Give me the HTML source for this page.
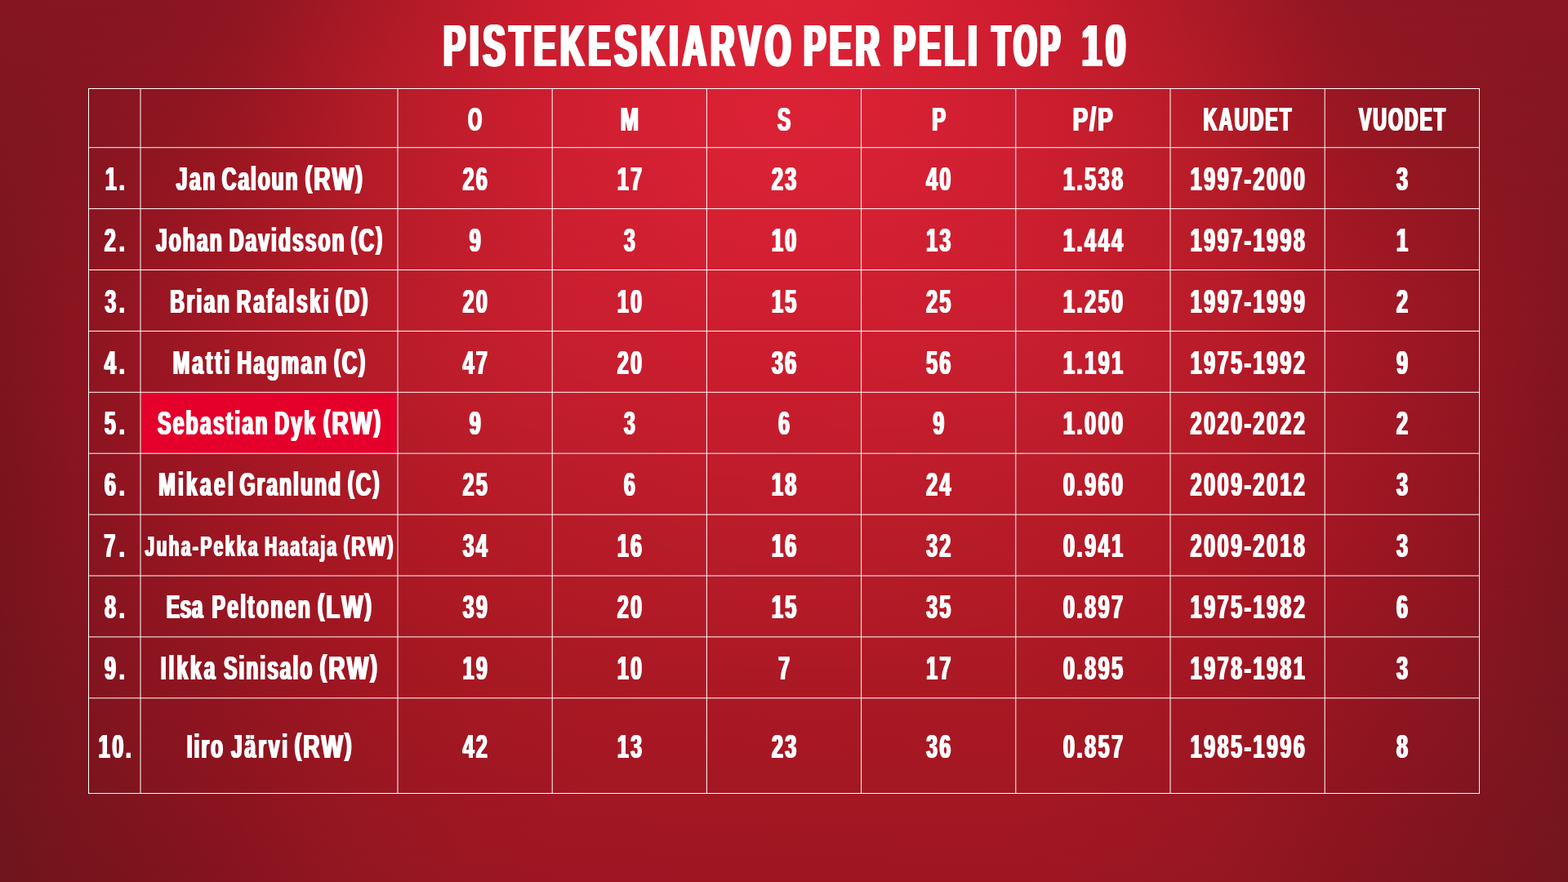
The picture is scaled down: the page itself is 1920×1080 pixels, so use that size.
<!DOCTYPE html>
<html lang="fi">
<head>
<meta charset="utf-8">
<title>Pistekeskiarvo per peli TOP 10</title>
<style>
html,body{margin:0;padding:0;}
body{width:1920px;height:1080px;overflow:hidden;position:relative;background:#9e1622;font-family:"Liberation Sans",Arial,Helvetica,sans-serif;font-weight:700;color:#fff;}
.bg{position:absolute;left:0;top:0;width:1920px;height:1080px;}
.grid{position:absolute;left:0;top:0;width:1920px;height:1080px;}
h1{margin:0;padding:0;font-size:0;line-height:0;height:0;font-weight:700;}
table{position:absolute;left:0;top:0;border-collapse:collapse;border-spacing:0;border:0;width:0;height:0;}
th,td{padding:0;border:0;font-size:0;line-height:0;font-weight:700;}
.t{position:absolute;left:0;top:0;margin:0;padding:0;white-space:nowrap;line-height:1;transform-origin:0 0;font-weight:700;font-kerning:none;}
.p{font-size:0.926em;position:relative;top:-0.109em;}
</style>
</head>
<body>
<div class="bg" style="background:linear-gradient(90deg,#6f151d 0%,#73151d 2.5%,#77141d 5%,#7a141d 7.5%,#7e141e 10%,#82141e 12.5%,#86141f 15%,#8a1520 17.5%,#8f1621 20%,#921722 22.5%,#951722 25%,#981722 27.5%,#9a1723 30%,#9c1623 32.5%,#9d1623 35%,#9e1623 37.5%,#9e1623 40%,#9e1623 42.5%,#9e1622 45%,#9e1622 47.5%,#9e1622 50%,#9e1622 52.5%,#9e1622 55%,#9f1623 57.5%,#9f1623 60%,#9f1623 62.5%,#9f1623 65%,#9e1723 67.5%,#9c1723 70%,#9a1723 72.5%,#981723 75%,#961722 77.5%,#921721 80%,#8e1620 82.5%,#8a151f 85%,#86151f 87.5%,#82151f 90%,#7f151e 92.5%,#7b151e 95%,#77151e 97.5%,#74161e 100%);"></div>
<div class="bg" style="background:linear-gradient(90deg,#70151d 0%,#75151e 2.5%,#79151e 5%,#7d141e 7.5%,#81141e 10%,#85141f 12.5%,#89141f 15%,#8e1520 17.5%,#921621 20%,#951722 22.5%,#981722 25%,#9a1722 27.5%,#9d1723 30%,#9e1723 32.5%,#a01723 35%,#a01723 37.5%,#a01723 40%,#a11723 42.5%,#a11723 45%,#a11723 47.5%,#a11722 50%,#a11723 52.5%,#a11723 55%,#a11723 57.5%,#a11723 60%,#a11723 62.5%,#a11723 65%,#a01723 67.5%,#9f1723 70%,#9d1723 72.5%,#9b1723 75%,#991722 77.5%,#951721 80%,#911621 82.5%,#8d1520 85%,#89151f 87.5%,#85151f 90%,#81151f 92.5%,#7d151f 95%,#79161f 97.5%,#75161f 100%);-webkit-mask-image:linear-gradient(180deg,#000 0,#000 1020px,transparent 1080px);mask-image:linear-gradient(180deg,#000 0,#000 1020px,transparent 1080px);"></div>
<div class="bg" style="background:linear-gradient(90deg,#72151e 0%,#76151e 2.5%,#7b151e 5%,#7f151e 7.5%,#84151f 10%,#88151f 12.5%,#8c151f 15%,#911520 17.5%,#951621 20%,#981722 22.5%,#9b1722 25%,#9d1722 27.5%,#9f1723 30%,#a11723 32.5%,#a21723 35%,#a31823 37.5%,#a31823 40%,#a41823 42.5%,#a41823 45%,#a41823 47.5%,#a41823 50%,#a41823 52.5%,#a41823 55%,#a41823 57.5%,#a41824 60%,#a41824 62.5%,#a41823 65%,#a31823 67.5%,#a11823 70%,#a01723 72.5%,#9e1723 75%,#9c1722 77.5%,#981722 80%,#941621 82.5%,#901520 85%,#8c1520 87.5%,#881520 90%,#84151f 92.5%,#7f151f 95%,#7b161f 97.5%,#76161f 100%);-webkit-mask-image:linear-gradient(180deg,#000 0,#000 960px,transparent 1020px);mask-image:linear-gradient(180deg,#000 0,#000 960px,transparent 1020px);"></div>
<div class="bg" style="background:linear-gradient(90deg,#73151e 0%,#78151e 2.5%,#7d151f 5%,#82151f 7.5%,#87151f 10%,#8b1520 12.5%,#901520 15%,#941520 17.5%,#981621 20%,#9c1722 22.5%,#9e1722 25%,#a01722 27.5%,#a21823 30%,#a41823 32.5%,#a51823 35%,#a61824 37.5%,#a71824 40%,#a71824 42.5%,#a71824 45%,#a71824 47.5%,#a81824 50%,#a81824 52.5%,#a71824 55%,#a71824 57.5%,#a71824 60%,#a71824 62.5%,#a71824 65%,#a61823 67.5%,#a41823 70%,#a31823 72.5%,#a11723 75%,#9f1722 77.5%,#9c1722 80%,#981621 82.5%,#931621 85%,#8f1520 87.5%,#8b1520 90%,#861620 92.5%,#821620 95%,#7d161f 97.5%,#77161f 100%);-webkit-mask-image:linear-gradient(180deg,#000 0,#000 900px,transparent 960px);mask-image:linear-gradient(180deg,#000 0,#000 900px,transparent 960px);"></div>
<div class="bg" style="background:linear-gradient(90deg,#74151e 0%,#7a151e 2.5%,#7f151f 5%,#85151f 7.5%,#8a1520 10%,#8e1520 12.5%,#931520 15%,#971621 17.5%,#9b1621 20%,#9f1722 22.5%,#a21722 25%,#a41822 27.5%,#a61823 30%,#a71923 32.5%,#a81924 35%,#a91924 37.5%,#aa1924 40%,#ab1925 42.5%,#ab1925 45%,#ab1925 47.5%,#ab1925 50%,#ab1925 52.5%,#ab1925 55%,#ab1925 57.5%,#ab1924 60%,#aa1924 62.5%,#aa1924 65%,#a91924 67.5%,#a81823 70%,#a61823 72.5%,#a51723 75%,#a21722 77.5%,#9f1722 80%,#9b1622 82.5%,#971621 85%,#921621 87.5%,#8e1621 90%,#891620 92.5%,#841620 95%,#7e1620 97.5%,#79161f 100%);-webkit-mask-image:linear-gradient(180deg,#000 0,#000 840px,transparent 900px);mask-image:linear-gradient(180deg,#000 0,#000 840px,transparent 900px);"></div>
<div class="bg" style="background:linear-gradient(90deg,#75151e 0%,#7c151e 2.5%,#82151f 5%,#881520 7.5%,#8d1520 10%,#921521 12.5%,#961621 15%,#9b1621 17.5%,#9f1622 20%,#a31722 22.5%,#a51722 25%,#a71823 27.5%,#a91923 30%,#ab1924 32.5%,#ac1a25 35%,#ad1a25 37.5%,#ae1a25 40%,#af1a26 42.5%,#af1a26 45%,#b01a26 47.5%,#b01a26 50%,#b01a26 52.5%,#b01a26 55%,#af1a26 57.5%,#af1a25 60%,#ae1a25 62.5%,#ae1a25 65%,#ad1924 67.5%,#ab1924 70%,#aa1824 72.5%,#a81823 75%,#a61723 77.5%,#a31722 80%,#9f1622 82.5%,#9a1622 85%,#961621 87.5%,#911621 90%,#8c1621 92.5%,#861620 95%,#80161f 97.5%,#7a161f 100%);-webkit-mask-image:linear-gradient(180deg,#000 0,#000 780px,transparent 840px);mask-image:linear-gradient(180deg,#000 0,#000 780px,transparent 840px);"></div>
<div class="bg" style="background:linear-gradient(90deg,#77141d 0%,#7e151e 2.5%,#84151f 5%,#8b1520 7.5%,#901521 10%,#951621 12.5%,#9a1622 15%,#9f1622 17.5%,#a31722 20%,#a71723 22.5%,#a91823 25%,#ac1924 27.5%,#ae1925 30%,#af1a25 32.5%,#b11a26 35%,#b21b26 37.5%,#b31b27 40%,#b31b27 42.5%,#b41b28 45%,#b51b28 47.5%,#b51b28 50%,#b51b28 52.5%,#b41b28 55%,#b41b27 57.5%,#b31b27 60%,#b31b27 62.5%,#b21b26 65%,#b11a26 67.5%,#b01a25 70%,#ae1924 72.5%,#ac1824 75%,#aa1824 77.5%,#a71723 80%,#a31723 82.5%,#9e1622 85%,#991622 87.5%,#941621 90%,#8f1621 92.5%,#891520 95%,#82151f 97.5%,#7b151f 100%);-webkit-mask-image:linear-gradient(180deg,#000 0,#000 720px,transparent 780px);mask-image:linear-gradient(180deg,#000 0,#000 720px,transparent 780px);"></div>
<div class="bg" style="background:linear-gradient(90deg,#78141d 0%,#80141e 2.5%,#87151f 5%,#8d1520 7.5%,#931521 10%,#991622 12.5%,#9e1622 15%,#a21723 17.5%,#a71723 20%,#aa1824 22.5%,#ad1924 25%,#b01925 27.5%,#b21a26 30%,#b31b27 32.5%,#b51b27 35%,#b61b28 37.5%,#b71b29 40%,#b81c29 42.5%,#b91c2a 45%,#ba1c2a 47.5%,#ba1c2a 50%,#ba1c2a 52.5%,#b91c2a 55%,#b91c29 57.5%,#b81c29 60%,#b71c28 62.5%,#b61b28 65%,#b51b27 67.5%,#b41a26 70%,#b21a26 72.5%,#b01925 75%,#ae1925 77.5%,#aa1824 80%,#a61724 82.5%,#a11723 85%,#9d1623 87.5%,#971622 90%,#911621 92.5%,#8b1520 95%,#84151f 97.5%,#7d151e 100%);-webkit-mask-image:linear-gradient(180deg,#000 0,#000 660px,transparent 720px);mask-image:linear-gradient(180deg,#000 0,#000 660px,transparent 720px);"></div>
<div class="bg" style="background:linear-gradient(90deg,#79141d 0%,#81141e 2.5%,#88151f 5%,#8f1520 7.5%,#951621 10%,#9b1622 12.5%,#a01723 15%,#a51724 17.5%,#a91824 20%,#ad1925 22.5%,#b11926 25%,#b31a26 27.5%,#b61b27 30%,#b81c28 32.5%,#b91c29 35%,#bb1c2a 37.5%,#bc1c2a 40%,#bd1c2b 42.5%,#be1c2b 45%,#be1c2b 47.5%,#bf1c2c 50%,#bf1c2b 52.5%,#be1c2b 55%,#bd1c2b 57.5%,#bd1c2a 60%,#bc1c2a 62.5%,#bb1c29 65%,#b91c29 67.5%,#b81b28 70%,#b61a27 72.5%,#b31a26 75%,#b11926 77.5%,#ad1925 80%,#a91824 82.5%,#a41724 85%,#9f1723 87.5%,#991622 90%,#931621 92.5%,#8d1520 95%,#86151f 97.5%,#7e151e 100%);-webkit-mask-image:linear-gradient(180deg,#000 0,#000 600px,transparent 660px);mask-image:linear-gradient(180deg,#000 0,#000 600px,transparent 660px);"></div>
<div class="bg" style="background:linear-gradient(90deg,#7b141d 0%,#82151e 2.5%,#8a1520 5%,#901521 7.5%,#971622 10%,#9d1623 12.5%,#a21724 15%,#a71825 17.5%,#ac1925 20%,#b11a26 22.5%,#b41a27 25%,#b71b28 27.5%,#ba1c29 30%,#bc1d2a 32.5%,#be1d2b 35%,#bf1d2c 37.5%,#c11d2c 40%,#c21d2c 42.5%,#c31d2d 45%,#c31d2d 47.5%,#c31d2d 50%,#c31d2d 52.5%,#c31d2d 55%,#c21d2c 57.5%,#c11d2c 60%,#c01d2c 62.5%,#bf1d2c 65%,#be1d2b 67.5%,#bc1c2a 70%,#ba1b29 72.5%,#b71b28 75%,#b41a27 77.5%,#b01926 80%,#ab1825 82.5%,#a61825 85%,#a11724 87.5%,#9b1723 90%,#951622 92.5%,#8e1621 95%,#87151f 97.5%,#7f151e 100%);-webkit-mask-image:linear-gradient(180deg,#000 0,#000 540px,transparent 600px);mask-image:linear-gradient(180deg,#000 0,#000 540px,transparent 600px);"></div>
<div class="bg" style="background:linear-gradient(90deg,#7c151d 0%,#84151f 2.5%,#8b1520 5%,#921621 7.5%,#981622 10%,#9e1724 12.5%,#a41825 15%,#a91826 17.5%,#af1a27 20%,#b31b28 22.5%,#b71b29 25%,#bb1c2a 27.5%,#be1d2c 30%,#c01e2d 32.5%,#c21e2e 35%,#c41e2e 37.5%,#c51e2e 40%,#c61e2e 42.5%,#c71d2e 45%,#c81d2e 47.5%,#c81d2e 50%,#c81d2e 52.5%,#c71e2e 55%,#c71e2e 57.5%,#c61e2e 60%,#c51e2e 62.5%,#c41e2e 65%,#c21e2d 67.5%,#c01d2c 70%,#bd1d2b 72.5%,#ba1c2a 75%,#b71b29 77.5%,#b21a28 80%,#ad1927 82.5%,#a81826 85%,#a21724 87.5%,#9c1723 90%,#961622 92.5%,#8f1621 95%,#881520 97.5%,#80151f 100%);-webkit-mask-image:linear-gradient(180deg,#000 0,#000 480px,transparent 540px);mask-image:linear-gradient(180deg,#000 0,#000 480px,transparent 540px);"></div>
<div class="bg" style="background:linear-gradient(90deg,#7d151e 0%,#84151f 2.5%,#8b1520 5%,#921622 7.5%,#991623 10%,#9f1724 12.5%,#a51825 15%,#ab1926 17.5%,#b01a28 20%,#b51b29 22.5%,#b91c2a 25%,#bd1d2b 27.5%,#c01e2d 30%,#c41e2e 32.5%,#c61f2f 35%,#c81f30 37.5%,#c91f30 40%,#ca1e30 42.5%,#cb1e2f 45%,#cc1e2f 47.5%,#cc1e2f 50%,#cc1e30 52.5%,#cc1e30 55%,#cb1f30 57.5%,#ca1f30 60%,#c91f30 62.5%,#c71f30 65%,#c51f2f 67.5%,#c31e2d 70%,#c01d2c 72.5%,#bc1c2b 75%,#b81c2a 77.5%,#b41b28 80%,#ae1927 82.5%,#a91826 85%,#a31825 87.5%,#9d1724 90%,#971723 92.5%,#901621 95%,#891620 97.5%,#81161f 100%);-webkit-mask-image:linear-gradient(180deg,#000 0,#000 420px,transparent 480px);mask-image:linear-gradient(180deg,#000 0,#000 420px,transparent 480px);"></div>
<div class="bg" style="background:linear-gradient(90deg,#7e151e 0%,#84151f 2.5%,#8b1620 5%,#921622 7.5%,#981623 10%,#9e1724 12.5%,#a41825 15%,#aa1926 17.5%,#b01a28 20%,#b51b29 22.5%,#b91c2a 25%,#bd1d2c 27.5%,#c21e2d 30%,#c51e2f 32.5%,#c81f30 35%,#cb1f30 37.5%,#cc1f30 40%,#ce1f31 42.5%,#cf1f31 45%,#d01f31 47.5%,#d01f31 50%,#d01f31 52.5%,#cf1f31 55%,#ce1f31 57.5%,#cd1f31 60%,#cc1f31 62.5%,#ca1f30 65%,#c71f2f 67.5%,#c41e2e 70%,#c01d2c 72.5%,#bc1d2b 75%,#b81c2a 77.5%,#b41b28 80%,#ae1927 82.5%,#a81826 85%,#a21825 87.5%,#9c1724 90%,#961722 92.5%,#901621 95%,#891620 97.5%,#82161f 100%);-webkit-mask-image:linear-gradient(180deg,#000 0,#000 360px,transparent 420px);mask-image:linear-gradient(180deg,#000 0,#000 360px,transparent 420px);"></div>
<div class="bg" style="background:linear-gradient(90deg,#7e161f 0%,#841620 2.5%,#891620 5%,#8f1621 7.5%,#961622 10%,#9c1723 12.5%,#a21724 15%,#a81925 17.5%,#af1a27 20%,#b41b29 22.5%,#b91c2a 25%,#be1d2b 27.5%,#c21e2d 30%,#c71e2e 32.5%,#ca1f30 35%,#cd1f31 37.5%,#cf1f31 40%,#d12032 42.5%,#d32032 45%,#d42033 47.5%,#d42033 50%,#d42033 52.5%,#d32032 55%,#d22032 57.5%,#d01f31 60%,#ce1f31 62.5%,#cc1f30 65%,#c81e2f 67.5%,#c51e2d 70%,#c01d2c 72.5%,#bc1d2b 75%,#b81c29 77.5%,#b21a28 80%,#ac1926 82.5%,#a61825 85%,#a01724 87.5%,#9a1723 90%,#941722 92.5%,#8e1621 95%,#881621 97.5%,#831620 100%);-webkit-mask-image:linear-gradient(180deg,#000 0,#000 300px,transparent 360px);mask-image:linear-gradient(180deg,#000 0,#000 300px,transparent 360px);"></div>
<div class="bg" style="background:linear-gradient(90deg,#7f161f 0%,#831620 2.5%,#871620 5%,#8c1621 7.5%,#921621 10%,#981622 12.5%,#9e1723 15%,#a51824 17.5%,#ac1a26 20%,#b31b28 22.5%,#b91c2a 25%,#be1d2b 27.5%,#c31e2d 30%,#c81e2e 32.5%,#cc1f30 35%,#cf1f31 37.5%,#d12032 40%,#d42033 42.5%,#d62133 45%,#d72134 47.5%,#d82134 50%,#d72134 52.5%,#d62134 55%,#d42033 57.5%,#d22032 60%,#d01f31 62.5%,#cd1f30 65%,#c91e2f 67.5%,#c51e2d 70%,#c01d2c 72.5%,#bc1d2a 75%,#b61c29 77.5%,#b01a27 80%,#a91925 82.5%,#a21723 85%,#9c1723 87.5%,#961722 90%,#911722 92.5%,#8b1721 95%,#871721 97.5%,#831720 100%);-webkit-mask-image:linear-gradient(180deg,#000 0,#000 240px,transparent 300px);mask-image:linear-gradient(180deg,#000 0,#000 240px,transparent 300px);"></div>
<div class="bg" style="background:linear-gradient(90deg,#801620 0%,#821620 2.5%,#861620 5%,#8a1620 7.5%,#8f1621 10%,#941621 12.5%,#9a1722 15%,#a11823 17.5%,#aa1925 20%,#b11b28 22.5%,#b81c29 25%,#be1d2b 27.5%,#c31d2d 30%,#c81e2e 32.5%,#cd1e30 35%,#d01f31 37.5%,#d32032 40%,#d52033 42.5%,#d82134 45%,#d92235 47.5%,#da2235 50%,#d92235 52.5%,#d82134 55%,#d62133 57.5%,#d32032 60%,#d11f31 62.5%,#ce1f30 65%,#ca1e2f 67.5%,#c51e2d 70%,#c01d2c 72.5%,#bb1d2a 75%,#b51c28 77.5%,#ad1a26 80%,#a51824 82.5%,#9e1723 85%,#981722 87.5%,#931722 90%,#8e1721 92.5%,#8a1721 95%,#871721 97.5%,#841721 100%);-webkit-mask-image:linear-gradient(180deg,#000 0,#000 180px,transparent 240px);mask-image:linear-gradient(180deg,#000 0,#000 180px,transparent 240px);"></div>
<div class="bg" style="background:linear-gradient(90deg,#811621 0%,#831620 2.5%,#861620 5%,#891621 7.5%,#8c1621 10%,#901621 12.5%,#961622 15%,#9e1823 17.5%,#a61925 20%,#af1b27 22.5%,#b61c29 25%,#bd1d2a 27.5%,#c21d2c 30%,#c81e2e 32.5%,#cd1e30 35%,#d01f31 37.5%,#d32032 40%,#d62033 42.5%,#d92134 45%,#da2235 47.5%,#db2235 50%,#da2235 52.5%,#d92134 55%,#d72133 57.5%,#d42032 60%,#d11f31 62.5%,#ce1e30 65%,#ca1e2e 67.5%,#c51d2d 70%,#bf1d2b 72.5%,#b91c29 75%,#b21b28 77.5%,#aa1a26 80%,#a21824 82.5%,#9a1723 85%,#941722 87.5%,#901722 90%,#8d1722 92.5%,#8a1721 95%,#871722 97.5%,#861722 100%);-webkit-mask-image:linear-gradient(180deg,#000 0,#000 120px,transparent 180px);mask-image:linear-gradient(180deg,#000 0,#000 120px,transparent 180px);"></div>
<div class="bg" style="background:linear-gradient(90deg,#831621 0%,#841621 2.5%,#861621 5%,#881621 7.5%,#8a1621 10%,#8d1621 12.5%,#921622 15%,#991723 17.5%,#a21925 20%,#ab1a26 22.5%,#b31b28 25%,#b91c2a 27.5%,#c01c2c 30%,#c71d2d 32.5%,#cc1e2f 35%,#d01e31 37.5%,#d31f32 40%,#d72033 42.5%,#d92134 45%,#db2235 47.5%,#dc2235 50%,#db2235 52.5%,#d92134 55%,#d72033 57.5%,#d41f32 60%,#d11f31 62.5%,#ce1e2f 65%,#c81d2e 67.5%,#c21d2c 70%,#bc1c2a 72.5%,#b51c29 75%,#ae1b27 77.5%,#a61925 80%,#9d1824 82.5%,#961723 85%,#911722 87.5%,#8e1722 90%,#8c1722 92.5%,#8a1722 95%,#881722 97.5%,#871722 100%);-webkit-mask-image:linear-gradient(180deg,#000 0,#000 60px,transparent 120px);mask-image:linear-gradient(180deg,#000 0,#000 60px,transparent 120px);"></div>
<div class="bg" style="background:linear-gradient(90deg,#851622 0%,#851622 2.5%,#861622 5%,#871622 7.5%,#881622 10%,#8a1622 12.5%,#8e1622 15%,#951723 17.5%,#9d1824 20%,#a61926 22.5%,#ae1a27 25%,#b51b29 27.5%,#bd1c2b 30%,#c51c2d 32.5%,#cb1d2e 35%,#d01e30 37.5%,#d41f31 40%,#d72033 42.5%,#d92134 45%,#db2235 47.5%,#dc2235 50%,#db2235 52.5%,#da2134 55%,#d72033 57.5%,#d41f32 60%,#d11e30 62.5%,#cd1d2f 65%,#c71d2d 67.5%,#c01c2b 70%,#b81b29 72.5%,#b11b28 75%,#a91a27 77.5%,#a11925 80%,#981824 82.5%,#921723 85%,#8e1723 87.5%,#8d1723 90%,#8b1723 92.5%,#8a1723 95%,#8a1723 97.5%,#8a1723 100%);-webkit-mask-image:linear-gradient(180deg,#000 0,#000 0px,transparent 60px);mask-image:linear-gradient(180deg,#000 0,#000 0px,transparent 60px);"></div>
<svg class="grid" width="1920" height="1080" viewBox="0 0 1920 1080">
<rect x="173" y="481" width="314" height="74.3" fill="#e4002b"/>
<g fill="none" stroke="#fff" stroke-width="1" stroke-opacity="1">
<line x1="172" y1="108.5" x2="172" y2="971.5"/>
<line x1="487" y1="108.5" x2="487" y2="971.5"/>
<line x1="676.2" y1="108.5" x2="676.2" y2="971.5"/>
<line x1="865.4" y1="108.5" x2="865.4" y2="971.5"/>
<line x1="1054.6" y1="108.5" x2="1054.6" y2="971.5"/>
<line x1="1243.8" y1="108.5" x2="1243.8" y2="971.5"/>
<line x1="1433" y1="108.5" x2="1433" y2="971.5"/>
<line x1="1622.2" y1="108.5" x2="1622.2" y2="971.5"/>
<line x1="108.5" y1="180.7" x2="1811.5" y2="180.7"/>
<line x1="108.5" y1="255.6" x2="1811.5" y2="255.6"/>
<line x1="108.5" y1="330.5" x2="1811.5" y2="330.5"/>
<line x1="108.5" y1="405.4" x2="1811.5" y2="405.4"/>
<line x1="108.5" y1="480.3" x2="1811.5" y2="480.3"/>
<line x1="108.5" y1="555.2" x2="1811.5" y2="555.2"/>
<line x1="108.5" y1="630.1" x2="1811.5" y2="630.1"/>
<line x1="108.5" y1="705" x2="1811.5" y2="705"/>
<line x1="108.5" y1="779.9" x2="1811.5" y2="779.9"/>
<line x1="108.5" y1="854.8" x2="1811.5" y2="854.8"/>
</g>
<rect x="108.5" y="108.5" width="1703" height="863" fill="none" stroke="#fff" stroke-width="1"/>
</svg>
<h1 id="title"><span class="t" style="font-size:72.4px;letter-spacing:9.236px;text-shadow:3.75px 0 0 #fff,-3.75px 0 0 #fff;transform:translate(755.68px,19.713px) scale(0.56,1) translate(-50%,0) translate(4.618px,0)">PISTEKESKIARVO</span> <span class="t" style="font-size:72.4px;letter-spacing:8.5px;text-shadow:3.756px 0 0 #fff,-3.756px 0 0 #fff;transform:translate(1030.507px,19.713px) scale(0.5591,1) translate(-50%,0) translate(4.25px,0)">PER</span> <span class="t" style="font-size:72.4px;letter-spacing:8.5px;text-shadow:3.823px 0 0 #fff,-3.823px 0 0 #fff;transform:translate(1145.305px,19.713px) scale(0.5493,1) translate(-50%,0) translate(4.25px,0)">PELI</span> <span class="t" style="font-size:72.4px;letter-spacing:8.5px;text-shadow:4.192px 0 0 #fff,-4.192px 0 0 #fff;transform:translate(1256.444px,19.713px) scale(0.5009,1) translate(-50%,0) translate(4.25px,0)">TOP</span> <span class="t" style="font-size:72.4px;letter-spacing:8.5px;text-shadow:3.51px 0 0 #fff,-3.51px 0 0 #fff;transform:translate(1351.534px,19.713px) scale(0.5983,1) translate(-50%,0) translate(4.25px,0)">10</span></h1>
<table id="stats">
<thead>
<tr><th scope="col"></th><th scope="col"></th><th scope="col"><span class="t" style="font-size:40.4px;letter-spacing:3.4px;text-shadow:1.869px 0 0 #fff,-1.869px 0 0 #fff;transform:translate(581.613px,125.801px) scale(0.5351,1) translate(-50%,0) translate(1.7px,0)">O</span></th><th scope="col"><span class="t" style="font-size:40.4px;letter-spacing:3.4px;text-shadow:1.51px 0 0 #fff,-1.51px 0 0 #fff;transform:translate(770.972px,125.801px) scale(0.6623,1) translate(-50%,0) translate(1.7px,0)">M</span></th><th scope="col"><span class="t" style="font-size:40.4px;letter-spacing:3.4px;text-shadow:1.672px 0 0 #fff,-1.672px 0 0 #fff;transform:translate(960.122px,125.801px) scale(0.5981,1) translate(-50%,0) translate(1.7px,0)">S</span></th><th scope="col"><span class="t" style="font-size:40.4px;letter-spacing:3.4px;text-shadow:1.6px 0 0 #fff,-1.6px 0 0 #fff;transform:translate(1149.562px,125.801px) scale(0.6249,1) translate(-50%,0) translate(1.7px,0)">P</span></th><th scope="col"><span class="t" style="font-size:40.4px;letter-spacing:3.4px;text-shadow:1.47px 0 0 #fff,-1.47px 0 0 #fff;transform:translate(1338.098px,125.801px) scale(0.6804,1) translate(-50%,0) translate(1.7px,0)">P/P</span></th><th scope="col"><span class="t" style="font-size:40.4px;letter-spacing:3.4px;text-shadow:1.72px 0 0 #fff,-1.72px 0 0 #fff;transform:translate(1527.385px,125.801px) scale(0.5813,1) translate(-50%,0) translate(1.7px,0)">KAUDET</span></th><th scope="col"><span class="t" style="font-size:40.4px;letter-spacing:3.4px;text-shadow:1.751px 0 0 #fff,-1.751px 0 0 #fff;transform:translate(1716.925px,125.801px) scale(0.5711,1) translate(-50%,0) translate(1.7px,0)">VUODET</span></th></tr>
</thead>
<tbody>
<tr>
<td><span class="t" style="font-size:40.4px;letter-spacing:4.903px;text-shadow:1.452px 0 0 #fff,-1.452px 0 0 #fff;transform:translate(140.899px,198.801px) scale(0.62,1) translate(-50%,0) translate(2.451px,0)">1.</span></td>
<td><span class="t" style="font-size:40.4px;letter-spacing:4.181px;text-shadow:1.639px 0 0 #fff,-1.639px 0 0 #fff;transform:translate(239.439px,198.801px) scale(0.61,1) translate(-50%,0) translate(2.091px,0)">Jan</span> <span class="t" style="font-size:40.4px;letter-spacing:3.081px;text-shadow:1.639px 0 0 #fff,-1.639px 0 0 #fff;transform:translate(318.152px,198.801px) scale(0.61,1) translate(-50%,0) translate(1.54px,0)">Caloun</span> <span class="t" style="font-size:40.4px;letter-spacing:3px;text-shadow:1.435px 0 0 #fff,-1.435px 0 0 #fff;transform:translate(408.693px,198.801px) scale(0.6968,1) translate(-50%,0) translate(1.5px,0)"><span class="p">(</span>RW<span class="p">)</span></span></td>
<td><span class="t" style="font-size:40.4px;letter-spacing:3.747px;text-shadow:1.452px 0 0 #fff,-1.452px 0 0 #fff;transform:translate(581.7px,198.801px) scale(0.62,1) translate(-50%,0) translate(1.874px,0)">26</span></td>
<td><span class="t" style="font-size:40.4px;letter-spacing:3.747px;text-shadow:1.452px 0 0 #fff,-1.452px 0 0 #fff;transform:translate(770.9px,198.801px) scale(0.62,1) translate(-50%,0) translate(1.874px,0)">17</span></td>
<td><span class="t" style="font-size:40.4px;letter-spacing:3.747px;text-shadow:1.452px 0 0 #fff,-1.452px 0 0 #fff;transform:translate(960.1px,198.801px) scale(0.62,1) translate(-50%,0) translate(1.874px,0)">23</span></td>
<td><span class="t" style="font-size:40.4px;letter-spacing:3.747px;text-shadow:1.452px 0 0 #fff,-1.452px 0 0 #fff;transform:translate(1149.3px,198.801px) scale(0.62,1) translate(-50%,0) translate(1.874px,0)">40</span></td>
<td><span class="t" style="font-size:40.4px;letter-spacing:4.171px;text-shadow:1.452px 0 0 #fff,-1.452px 0 0 #fff;transform:translate(1338.5px,198.801px) scale(0.62,1) translate(-50%,0) translate(2.085px,0)">1.538</span></td>
<td><span class="t" style="font-size:40.4px;letter-spacing:4.094px;text-shadow:1.452px 0 0 #fff,-1.452px 0 0 #fff;transform:translate(1527.7px,198.801px) scale(0.62,1) translate(-50%,0) translate(2.047px,0)">1997-2000</span></td>
<td><span class="t" style="font-size:40.4px;letter-spacing:3.747px;text-shadow:1.452px 0 0 #fff,-1.452px 0 0 #fff;transform:translate(1716.95px,198.801px) scale(0.62,1) translate(-50%,0) translate(1.874px,0)">3</span></td>
</tr>
<tr>
<td><span class="t" style="font-size:40.4px;letter-spacing:6.331px;text-shadow:1.452px 0 0 #fff,-1.452px 0 0 #fff;transform:translate(140.373px,273.701px) scale(0.62,1) translate(-50%,0) translate(3.166px,0)">2.</span></td>
<td><span class="t" style="font-size:40.4px;letter-spacing:3.403px;text-shadow:1.639px 0 0 #fff,-1.639px 0 0 #fff;transform:translate(231.329px,273.701px) scale(0.61,1) translate(-50%,0) translate(1.702px,0)">Johan</span> <span class="t" style="font-size:40.4px;letter-spacing:3.34px;text-shadow:1.639px 0 0 #fff,-1.639px 0 0 #fff;transform:translate(351.15px,273.701px) scale(0.61,1) translate(-50%,0) translate(1.67px,0)">Davidsson</span> <span class="t" style="font-size:40.4px;letter-spacing:3px;text-shadow:1.553px 0 0 #fff,-1.553px 0 0 #fff;transform:translate(448.824px,273.701px) scale(0.6438,1) translate(-50%,0) translate(1.5px,0)"><span class="p">(</span>C<span class="p">)</span></span></td>
<td><span class="t" style="font-size:40.4px;letter-spacing:3.747px;text-shadow:1.452px 0 0 #fff,-1.452px 0 0 #fff;transform:translate(581.7px,273.701px) scale(0.62,1) translate(-50%,0) translate(1.874px,0)">9</span></td>
<td><span class="t" style="font-size:40.4px;letter-spacing:3.747px;text-shadow:1.452px 0 0 #fff,-1.452px 0 0 #fff;transform:translate(770.9px,273.701px) scale(0.62,1) translate(-50%,0) translate(1.874px,0)">3</span></td>
<td><span class="t" style="font-size:40.4px;letter-spacing:3.747px;text-shadow:1.452px 0 0 #fff,-1.452px 0 0 #fff;transform:translate(960.1px,273.701px) scale(0.62,1) translate(-50%,0) translate(1.874px,0)">10</span></td>
<td><span class="t" style="font-size:40.4px;letter-spacing:3.747px;text-shadow:1.452px 0 0 #fff,-1.452px 0 0 #fff;transform:translate(1149.3px,273.701px) scale(0.62,1) translate(-50%,0) translate(1.874px,0)">13</span></td>
<td><span class="t" style="font-size:40.4px;letter-spacing:4.171px;text-shadow:1.452px 0 0 #fff,-1.452px 0 0 #fff;transform:translate(1338.5px,273.701px) scale(0.62,1) translate(-50%,0) translate(2.085px,0)">1.444</span></td>
<td><span class="t" style="font-size:40.4px;letter-spacing:4.094px;text-shadow:1.452px 0 0 #fff,-1.452px 0 0 #fff;transform:translate(1527.7px,273.701px) scale(0.62,1) translate(-50%,0) translate(2.047px,0)">1997-1998</span></td>
<td><span class="t" style="font-size:40.4px;letter-spacing:3.747px;text-shadow:1.452px 0 0 #fff,-1.452px 0 0 #fff;transform:translate(1716.95px,273.701px) scale(0.62,1) translate(-50%,0) translate(1.874px,0)">1</span></td>
</tr>
<tr>
<td><span class="t" style="font-size:40.4px;letter-spacing:5.757px;text-shadow:1.452px 0 0 #fff,-1.452px 0 0 #fff;transform:translate(140.555px,348.601px) scale(0.62,1) translate(-50%,0) translate(2.878px,0)">3.</span></td>
<td><span class="t" style="font-size:40.4px;letter-spacing:3.974px;text-shadow:1.639px 0 0 #fff,-1.639px 0 0 #fff;transform:translate(244.508px,348.601px) scale(0.61,1) translate(-50%,0) translate(1.987px,0)">Brian</span> <span class="t" style="font-size:40.4px;letter-spacing:4.258px;text-shadow:1.639px 0 0 #fff,-1.639px 0 0 #fff;transform:translate(346.151px,348.601px) scale(0.61,1) translate(-50%,0) translate(2.129px,0)">Rafalski</span> <span class="t" style="font-size:40.4px;letter-spacing:3px;text-shadow:1.512px 0 0 #fff,-1.512px 0 0 #fff;transform:translate(430.719px,348.601px) scale(0.6615,1) translate(-50%,0) translate(1.5px,0)"><span class="p">(</span>D<span class="p">)</span></span></td>
<td><span class="t" style="font-size:40.4px;letter-spacing:3.747px;text-shadow:1.452px 0 0 #fff,-1.452px 0 0 #fff;transform:translate(581.7px,348.601px) scale(0.62,1) translate(-50%,0) translate(1.874px,0)">20</span></td>
<td><span class="t" style="font-size:40.4px;letter-spacing:3.747px;text-shadow:1.452px 0 0 #fff,-1.452px 0 0 #fff;transform:translate(770.9px,348.601px) scale(0.62,1) translate(-50%,0) translate(1.874px,0)">10</span></td>
<td><span class="t" style="font-size:40.4px;letter-spacing:3.747px;text-shadow:1.452px 0 0 #fff,-1.452px 0 0 #fff;transform:translate(960.1px,348.601px) scale(0.62,1) translate(-50%,0) translate(1.874px,0)">15</span></td>
<td><span class="t" style="font-size:40.4px;letter-spacing:3.747px;text-shadow:1.452px 0 0 #fff,-1.452px 0 0 #fff;transform:translate(1149.3px,348.601px) scale(0.62,1) translate(-50%,0) translate(1.874px,0)">25</span></td>
<td><span class="t" style="font-size:40.4px;letter-spacing:4.171px;text-shadow:1.452px 0 0 #fff,-1.452px 0 0 #fff;transform:translate(1338.5px,348.601px) scale(0.62,1) translate(-50%,0) translate(2.085px,0)">1.250</span></td>
<td><span class="t" style="font-size:40.4px;letter-spacing:4.094px;text-shadow:1.452px 0 0 #fff,-1.452px 0 0 #fff;transform:translate(1527.7px,348.601px) scale(0.62,1) translate(-50%,0) translate(2.047px,0)">1997-1999</span></td>
<td><span class="t" style="font-size:40.4px;letter-spacing:3.747px;text-shadow:1.452px 0 0 #fff,-1.452px 0 0 #fff;transform:translate(1716.95px,348.601px) scale(0.62,1) translate(-50%,0) translate(1.874px,0)">2</span></td>
</tr>
<tr>
<td><span class="t" style="font-size:40.4px;letter-spacing:6.25px;text-shadow:1.452px 0 0 #fff,-1.452px 0 0 #fff;transform:translate(140.384px,423.501px) scale(0.62,1) translate(-50%,0) translate(3.125px,0)">4.</span></td>
<td><span class="t" style="font-size:40.4px;letter-spacing:4.933px;text-shadow:1.639px 0 0 #fff,-1.639px 0 0 #fff;transform:translate(246.499px,423.501px) scale(0.61,1) translate(-50%,0) translate(2.466px,0)">Matti</span> <span class="t" style="font-size:40.4px;letter-spacing:3.987px;text-shadow:1.639px 0 0 #fff,-1.639px 0 0 #fff;transform:translate(345.036px,423.501px) scale(0.61,1) translate(-50%,0) translate(1.994px,0)">Hagman</span> <span class="t" style="font-size:40.4px;letter-spacing:3px;text-shadow:1.554px 0 0 #fff,-1.554px 0 0 #fff;transform:translate(428.048px,423.501px) scale(0.6436,1) translate(-50%,0) translate(1.5px,0)"><span class="p">(</span>C<span class="p">)</span></span></td>
<td><span class="t" style="font-size:40.4px;letter-spacing:3.747px;text-shadow:1.452px 0 0 #fff,-1.452px 0 0 #fff;transform:translate(581.7px,423.501px) scale(0.62,1) translate(-50%,0) translate(1.874px,0)">47</span></td>
<td><span class="t" style="font-size:40.4px;letter-spacing:3.747px;text-shadow:1.452px 0 0 #fff,-1.452px 0 0 #fff;transform:translate(770.9px,423.501px) scale(0.62,1) translate(-50%,0) translate(1.874px,0)">20</span></td>
<td><span class="t" style="font-size:40.4px;letter-spacing:3.747px;text-shadow:1.452px 0 0 #fff,-1.452px 0 0 #fff;transform:translate(960.1px,423.501px) scale(0.62,1) translate(-50%,0) translate(1.874px,0)">36</span></td>
<td><span class="t" style="font-size:40.4px;letter-spacing:3.747px;text-shadow:1.452px 0 0 #fff,-1.452px 0 0 #fff;transform:translate(1149.3px,423.501px) scale(0.62,1) translate(-50%,0) translate(1.874px,0)">56</span></td>
<td><span class="t" style="font-size:40.4px;letter-spacing:4.171px;text-shadow:1.452px 0 0 #fff,-1.452px 0 0 #fff;transform:translate(1338.5px,423.501px) scale(0.62,1) translate(-50%,0) translate(2.085px,0)">1.191</span></td>
<td><span class="t" style="font-size:40.4px;letter-spacing:4.094px;text-shadow:1.452px 0 0 #fff,-1.452px 0 0 #fff;transform:translate(1527.7px,423.501px) scale(0.62,1) translate(-50%,0) translate(2.047px,0)">1975-1992</span></td>
<td><span class="t" style="font-size:40.4px;letter-spacing:3.747px;text-shadow:1.452px 0 0 #fff,-1.452px 0 0 #fff;transform:translate(1716.95px,423.501px) scale(0.62,1) translate(-50%,0) translate(1.874px,0)">9</span></td>
</tr>
<tr class="hi">
<td><span class="t" style="font-size:40.4px;letter-spacing:6.526px;text-shadow:1.452px 0 0 #fff,-1.452px 0 0 #fff;transform:translate(140.314px,498.401px) scale(0.62,1) translate(-50%,0) translate(3.263px,0)">5.</span></td>
<td><span class="t" style="font-size:40.4px;letter-spacing:3.717px;text-shadow:1.639px 0 0 #fff,-1.639px 0 0 #fff;transform:translate(260.207px,498.401px) scale(0.61,1) translate(-50%,0) translate(1.859px,0)">Sebastian</span> <span class="t" style="font-size:40.4px;letter-spacing:3.607px;text-shadow:1.639px 0 0 #fff,-1.639px 0 0 #fff;transform:translate(361.164px,498.401px) scale(0.61,1) translate(-50%,0) translate(1.804px,0)">Dyk</span> <span class="t" style="font-size:40.4px;letter-spacing:3px;text-shadow:1.436px 0 0 #fff,-1.436px 0 0 #fff;transform:translate(430.972px,498.401px) scale(0.6962,1) translate(-50%,0) translate(1.5px,0)"><span class="p">(</span>RW<span class="p">)</span></span></td>
<td><span class="t" style="font-size:40.4px;letter-spacing:3.747px;text-shadow:1.452px 0 0 #fff,-1.452px 0 0 #fff;transform:translate(581.7px,498.401px) scale(0.62,1) translate(-50%,0) translate(1.874px,0)">9</span></td>
<td><span class="t" style="font-size:40.4px;letter-spacing:3.747px;text-shadow:1.452px 0 0 #fff,-1.452px 0 0 #fff;transform:translate(770.9px,498.401px) scale(0.62,1) translate(-50%,0) translate(1.874px,0)">3</span></td>
<td><span class="t" style="font-size:40.4px;letter-spacing:3.747px;text-shadow:1.452px 0 0 #fff,-1.452px 0 0 #fff;transform:translate(960.1px,498.401px) scale(0.62,1) translate(-50%,0) translate(1.874px,0)">6</span></td>
<td><span class="t" style="font-size:40.4px;letter-spacing:3.747px;text-shadow:1.452px 0 0 #fff,-1.452px 0 0 #fff;transform:translate(1149.3px,498.401px) scale(0.62,1) translate(-50%,0) translate(1.874px,0)">9</span></td>
<td><span class="t" style="font-size:40.4px;letter-spacing:4.171px;text-shadow:1.452px 0 0 #fff,-1.452px 0 0 #fff;transform:translate(1338.5px,498.401px) scale(0.62,1) translate(-50%,0) translate(2.085px,0)">1.000</span></td>
<td><span class="t" style="font-size:40.4px;letter-spacing:4.094px;text-shadow:1.452px 0 0 #fff,-1.452px 0 0 #fff;transform:translate(1527.7px,498.401px) scale(0.62,1) translate(-50%,0) translate(2.047px,0)">2020-2022</span></td>
<td><span class="t" style="font-size:40.4px;letter-spacing:3.747px;text-shadow:1.452px 0 0 #fff,-1.452px 0 0 #fff;transform:translate(1716.95px,498.401px) scale(0.62,1) translate(-50%,0) translate(1.874px,0)">2</span></td>
</tr>
<tr>
<td><span class="t" style="font-size:40.4px;letter-spacing:6.303px;text-shadow:1.452px 0 0 #fff,-1.452px 0 0 #fff;transform:translate(140.385px,573.301px) scale(0.62,1) translate(-50%,0) translate(3.151px,0)">6.</span></td>
<td><span class="t" style="font-size:40.4px;letter-spacing:5.39px;text-shadow:1.639px 0 0 #fff,-1.639px 0 0 #fff;transform:translate(240.028px,573.301px) scale(0.61,1) translate(-50%,0) translate(2.695px,0)">Mikael</span> <span class="t" style="font-size:40.4px;letter-spacing:3.321px;text-shadow:1.639px 0 0 #fff,-1.639px 0 0 #fff;transform:translate(355.273px,573.301px) scale(0.61,1) translate(-50%,0) translate(1.661px,0)">Granlund</span> <span class="t" style="font-size:40.4px;letter-spacing:3px;text-shadow:1.548px 0 0 #fff,-1.548px 0 0 #fff;transform:translate(445.096px,573.301px) scale(0.646,1) translate(-50%,0) translate(1.5px,0)"><span class="p">(</span>C<span class="p">)</span></span></td>
<td><span class="t" style="font-size:40.4px;letter-spacing:3.747px;text-shadow:1.452px 0 0 #fff,-1.452px 0 0 #fff;transform:translate(581.7px,573.301px) scale(0.62,1) translate(-50%,0) translate(1.874px,0)">25</span></td>
<td><span class="t" style="font-size:40.4px;letter-spacing:3.747px;text-shadow:1.452px 0 0 #fff,-1.452px 0 0 #fff;transform:translate(770.9px,573.301px) scale(0.62,1) translate(-50%,0) translate(1.874px,0)">6</span></td>
<td><span class="t" style="font-size:40.4px;letter-spacing:3.747px;text-shadow:1.452px 0 0 #fff,-1.452px 0 0 #fff;transform:translate(960.1px,573.301px) scale(0.62,1) translate(-50%,0) translate(1.874px,0)">18</span></td>
<td><span class="t" style="font-size:40.4px;letter-spacing:3.747px;text-shadow:1.452px 0 0 #fff,-1.452px 0 0 #fff;transform:translate(1149.3px,573.301px) scale(0.62,1) translate(-50%,0) translate(1.874px,0)">24</span></td>
<td><span class="t" style="font-size:40.4px;letter-spacing:4.171px;text-shadow:1.452px 0 0 #fff,-1.452px 0 0 #fff;transform:translate(1338.5px,573.301px) scale(0.62,1) translate(-50%,0) translate(2.085px,0)">0.960</span></td>
<td><span class="t" style="font-size:40.4px;letter-spacing:4.094px;text-shadow:1.452px 0 0 #fff,-1.452px 0 0 #fff;transform:translate(1527.7px,573.301px) scale(0.62,1) translate(-50%,0) translate(2.047px,0)">2009-2012</span></td>
<td><span class="t" style="font-size:40.4px;letter-spacing:3.747px;text-shadow:1.452px 0 0 #fff,-1.452px 0 0 #fff;transform:translate(1716.95px,573.301px) scale(0.62,1) translate(-50%,0) translate(1.874px,0)">3</span></td>
</tr>
<tr>
<td><span class="t" style="font-size:40.4px;letter-spacing:7.405px;text-shadow:1.452px 0 0 #fff,-1.452px 0 0 #fff;transform:translate(140.021px,648.201px) scale(0.62,1) translate(-50%,0) translate(3.703px,0)">7.</span></td>
<td><span class="t" style="font-size:34.3px;letter-spacing:3.94px;text-shadow:1.392px 0 0 #fff,-1.392px 0 0 #fff;transform:translate(246.456px,652.065px) scale(0.61,1) translate(-50%,0) translate(1.97px,0)">Juha-Pekka</span> <span class="t" style="font-size:34.3px;letter-spacing:3.684px;text-shadow:1.392px 0 0 #fff,-1.392px 0 0 #fff;transform:translate(368.127px,652.065px) scale(0.61,1) translate(-50%,0) translate(1.842px,0)">Haataja</span> <span class="t" style="font-size:34.3px;letter-spacing:3px;text-shadow:1.217px 0 0 #fff,-1.217px 0 0 #fff;transform:translate(451.172px,652.065px) scale(0.6978,1) translate(-50%,0) translate(1.5px,0)"><span class="p">(</span>RW<span class="p">)</span></span></td>
<td><span class="t" style="font-size:40.4px;letter-spacing:3.747px;text-shadow:1.452px 0 0 #fff,-1.452px 0 0 #fff;transform:translate(581.7px,648.201px) scale(0.62,1) translate(-50%,0) translate(1.874px,0)">34</span></td>
<td><span class="t" style="font-size:40.4px;letter-spacing:3.747px;text-shadow:1.452px 0 0 #fff,-1.452px 0 0 #fff;transform:translate(770.9px,648.201px) scale(0.62,1) translate(-50%,0) translate(1.874px,0)">16</span></td>
<td><span class="t" style="font-size:40.4px;letter-spacing:3.747px;text-shadow:1.452px 0 0 #fff,-1.452px 0 0 #fff;transform:translate(960.1px,648.201px) scale(0.62,1) translate(-50%,0) translate(1.874px,0)">16</span></td>
<td><span class="t" style="font-size:40.4px;letter-spacing:3.747px;text-shadow:1.452px 0 0 #fff,-1.452px 0 0 #fff;transform:translate(1149.3px,648.201px) scale(0.62,1) translate(-50%,0) translate(1.874px,0)">32</span></td>
<td><span class="t" style="font-size:40.4px;letter-spacing:4.171px;text-shadow:1.452px 0 0 #fff,-1.452px 0 0 #fff;transform:translate(1338.5px,648.201px) scale(0.62,1) translate(-50%,0) translate(2.085px,0)">0.941</span></td>
<td><span class="t" style="font-size:40.4px;letter-spacing:4.094px;text-shadow:1.452px 0 0 #fff,-1.452px 0 0 #fff;transform:translate(1527.7px,648.201px) scale(0.62,1) translate(-50%,0) translate(2.047px,0)">2009-2018</span></td>
<td><span class="t" style="font-size:40.4px;letter-spacing:3.747px;text-shadow:1.452px 0 0 #fff,-1.452px 0 0 #fff;transform:translate(1716.95px,648.201px) scale(0.62,1) translate(-50%,0) translate(1.874px,0)">3</span></td>
</tr>
<tr>
<td><span class="t" style="font-size:40.4px;letter-spacing:6.114px;text-shadow:1.452px 0 0 #fff,-1.452px 0 0 #fff;transform:translate(140.443px,723.101px) scale(0.62,1) translate(-50%,0) translate(3.057px,0)">8.</span></td>
<td><span class="t" style="font-size:40.4px;letter-spacing:0.564px;text-shadow:1.639px 0 0 #fff,-1.639px 0 0 #fff;transform:translate(226.085px,723.101px) scale(0.61,1) translate(-50%,0) translate(0.282px,0)">Esa</span> <span class="t" style="font-size:40.4px;letter-spacing:3.813px;text-shadow:1.639px 0 0 #fff,-1.639px 0 0 #fff;transform:translate(319.566px,723.101px) scale(0.61,1) translate(-50%,0) translate(1.907px,0)">Peltonen</span> <span class="t" style="font-size:40.4px;letter-spacing:3px;text-shadow:1.457px 0 0 #fff,-1.457px 0 0 #fff;transform:translate(421.829px,723.101px) scale(0.6864,1) translate(-50%,0) translate(1.5px,0)"><span class="p">(</span>LW<span class="p">)</span></span></td>
<td><span class="t" style="font-size:40.4px;letter-spacing:3.747px;text-shadow:1.452px 0 0 #fff,-1.452px 0 0 #fff;transform:translate(581.7px,723.101px) scale(0.62,1) translate(-50%,0) translate(1.874px,0)">39</span></td>
<td><span class="t" style="font-size:40.4px;letter-spacing:3.747px;text-shadow:1.452px 0 0 #fff,-1.452px 0 0 #fff;transform:translate(770.9px,723.101px) scale(0.62,1) translate(-50%,0) translate(1.874px,0)">20</span></td>
<td><span class="t" style="font-size:40.4px;letter-spacing:3.747px;text-shadow:1.452px 0 0 #fff,-1.452px 0 0 #fff;transform:translate(960.1px,723.101px) scale(0.62,1) translate(-50%,0) translate(1.874px,0)">15</span></td>
<td><span class="t" style="font-size:40.4px;letter-spacing:3.747px;text-shadow:1.452px 0 0 #fff,-1.452px 0 0 #fff;transform:translate(1149.3px,723.101px) scale(0.62,1) translate(-50%,0) translate(1.874px,0)">35</span></td>
<td><span class="t" style="font-size:40.4px;letter-spacing:4.171px;text-shadow:1.452px 0 0 #fff,-1.452px 0 0 #fff;transform:translate(1338.5px,723.101px) scale(0.62,1) translate(-50%,0) translate(2.085px,0)">0.897</span></td>
<td><span class="t" style="font-size:40.4px;letter-spacing:4.094px;text-shadow:1.452px 0 0 #fff,-1.452px 0 0 #fff;transform:translate(1527.7px,723.101px) scale(0.62,1) translate(-50%,0) translate(2.047px,0)">1975-1982</span></td>
<td><span class="t" style="font-size:40.4px;letter-spacing:3.747px;text-shadow:1.452px 0 0 #fff,-1.452px 0 0 #fff;transform:translate(1716.95px,723.101px) scale(0.62,1) translate(-50%,0) translate(1.874px,0)">6</span></td>
</tr>
<tr>
<td><span class="t" style="font-size:40.4px;letter-spacing:6.303px;text-shadow:1.452px 0 0 #fff,-1.452px 0 0 #fff;transform:translate(140.385px,798.001px) scale(0.62,1) translate(-50%,0) translate(3.151px,0)">9.</span></td>
<td><span class="t" style="font-size:40.4px;letter-spacing:4.897px;text-shadow:1.639px 0 0 #fff,-1.639px 0 0 #fff;transform:translate(230.142px,798.001px) scale(0.61,1) translate(-50%,0) translate(2.449px,0)">Ilkka</span> <span class="t" style="font-size:40.4px;letter-spacing:3.246px;text-shadow:1.639px 0 0 #fff,-1.639px 0 0 #fff;transform:translate(328.245px,798.001px) scale(0.61,1) translate(-50%,0) translate(1.623px,0)">Sinisalo</span> <span class="t" style="font-size:40.4px;letter-spacing:3px;text-shadow:1.435px 0 0 #fff,-1.435px 0 0 #fff;transform:translate(426.76px,798.001px) scale(0.6969,1) translate(-50%,0) translate(1.5px,0)"><span class="p">(</span>RW<span class="p">)</span></span></td>
<td><span class="t" style="font-size:40.4px;letter-spacing:3.747px;text-shadow:1.452px 0 0 #fff,-1.452px 0 0 #fff;transform:translate(581.7px,798.001px) scale(0.62,1) translate(-50%,0) translate(1.874px,0)">19</span></td>
<td><span class="t" style="font-size:40.4px;letter-spacing:3.747px;text-shadow:1.452px 0 0 #fff,-1.452px 0 0 #fff;transform:translate(770.9px,798.001px) scale(0.62,1) translate(-50%,0) translate(1.874px,0)">10</span></td>
<td><span class="t" style="font-size:40.4px;letter-spacing:3.747px;text-shadow:1.452px 0 0 #fff,-1.452px 0 0 #fff;transform:translate(960.1px,798.001px) scale(0.62,1) translate(-50%,0) translate(1.874px,0)">7</span></td>
<td><span class="t" style="font-size:40.4px;letter-spacing:3.747px;text-shadow:1.452px 0 0 #fff,-1.452px 0 0 #fff;transform:translate(1149.3px,798.001px) scale(0.62,1) translate(-50%,0) translate(1.874px,0)">17</span></td>
<td><span class="t" style="font-size:40.4px;letter-spacing:4.171px;text-shadow:1.452px 0 0 #fff,-1.452px 0 0 #fff;transform:translate(1338.5px,798.001px) scale(0.62,1) translate(-50%,0) translate(2.085px,0)">0.895</span></td>
<td><span class="t" style="font-size:40.4px;letter-spacing:4.094px;text-shadow:1.452px 0 0 #fff,-1.452px 0 0 #fff;transform:translate(1527.7px,798.001px) scale(0.62,1) translate(-50%,0) translate(2.047px,0)">1978-1981</span></td>
<td><span class="t" style="font-size:40.4px;letter-spacing:3.747px;text-shadow:1.452px 0 0 #fff,-1.452px 0 0 #fff;transform:translate(1716.95px,798.001px) scale(0.62,1) translate(-50%,0) translate(1.874px,0)">3</span></td>
</tr>
<tr>
<td><span class="t" style="font-size:40.4px;letter-spacing:4.224px;text-shadow:1.452px 0 0 #fff,-1.452px 0 0 #fff;transform:translate(140.788px,893.801px) scale(0.62,1) translate(-50%,0) translate(2.112px,0)">10.</span></td>
<td><span class="t" style="font-size:40.4px;letter-spacing:3.375px;text-shadow:1.639px 0 0 #fff,-1.639px 0 0 #fff;transform:translate(250.895px,893.801px) scale(0.61,1) translate(-50%,0) translate(1.688px,0)">Iiro</span> <span class="t" style="font-size:40.4px;letter-spacing:4.755px;text-shadow:1.639px 0 0 #fff,-1.639px 0 0 #fff;transform:translate(317.529px,893.801px) scale(0.61,1) translate(-50%,0) translate(2.377px,0)">Järvi</span> <span class="t" style="font-size:40.4px;letter-spacing:3px;text-shadow:1.443px 0 0 #fff,-1.443px 0 0 #fff;transform:translate(395.526px,893.801px) scale(0.693,1) translate(-50%,0) translate(1.5px,0)"><span class="p">(</span>RW<span class="p">)</span></span></td>
<td><span class="t" style="font-size:40.4px;letter-spacing:3.747px;text-shadow:1.452px 0 0 #fff,-1.452px 0 0 #fff;transform:translate(581.7px,893.801px) scale(0.62,1) translate(-50%,0) translate(1.874px,0)">42</span></td>
<td><span class="t" style="font-size:40.4px;letter-spacing:3.747px;text-shadow:1.452px 0 0 #fff,-1.452px 0 0 #fff;transform:translate(770.9px,893.801px) scale(0.62,1) translate(-50%,0) translate(1.874px,0)">13</span></td>
<td><span class="t" style="font-size:40.4px;letter-spacing:3.747px;text-shadow:1.452px 0 0 #fff,-1.452px 0 0 #fff;transform:translate(960.1px,893.801px) scale(0.62,1) translate(-50%,0) translate(1.874px,0)">23</span></td>
<td><span class="t" style="font-size:40.4px;letter-spacing:3.747px;text-shadow:1.452px 0 0 #fff,-1.452px 0 0 #fff;transform:translate(1149.3px,893.801px) scale(0.62,1) translate(-50%,0) translate(1.874px,0)">36</span></td>
<td><span class="t" style="font-size:40.4px;letter-spacing:4.171px;text-shadow:1.452px 0 0 #fff,-1.452px 0 0 #fff;transform:translate(1338.5px,893.801px) scale(0.62,1) translate(-50%,0) translate(2.085px,0)">0.857</span></td>
<td><span class="t" style="font-size:40.4px;letter-spacing:4.094px;text-shadow:1.452px 0 0 #fff,-1.452px 0 0 #fff;transform:translate(1527.7px,893.801px) scale(0.62,1) translate(-50%,0) translate(2.047px,0)">1985-1996</span></td>
<td><span class="t" style="font-size:40.4px;letter-spacing:3.747px;text-shadow:1.452px 0 0 #fff,-1.452px 0 0 #fff;transform:translate(1716.95px,893.801px) scale(0.62,1) translate(-50%,0) translate(1.874px,0)">8</span></td>
</tr>
</tbody>
</table>
</body>
</html>
